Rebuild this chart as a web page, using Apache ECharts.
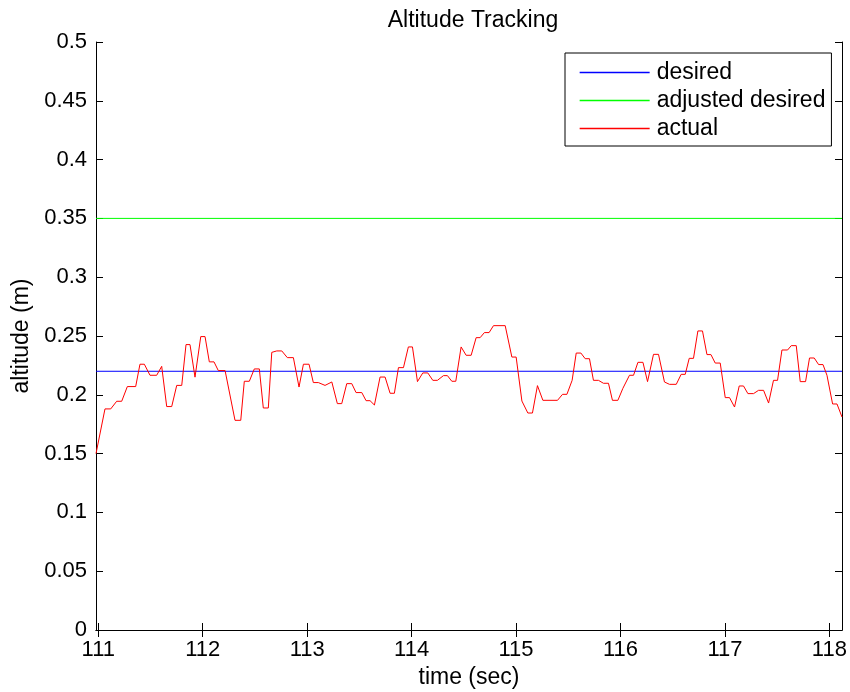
<!DOCTYPE html>
<html>
<head>
<meta charset="utf-8">
<script src="https://cdn.jsdelivr.net/npm/echarts@6/dist/echarts.min.js"></script>
<style>html,body{margin:0;padding:0;background:#fff}#chart{width:850px;height:692px}</style>
</head>
<body>
<div id="chart"></div>
<script>
const xTicks = [111, 112, 113, 114, 115, 116, 117, 118];
const xMin = 110.978, xMax = 118.121;
const desiredAlt = 0.22;
const adjustedAlt = 0.35;
const time = [110.978,111.064,111.119,111.176,111.224,111.278,111.358,111.399,111.441,111.495,111.559,111.607,111.655,111.703,111.751,111.799,111.840,111.878,111.926,111.981,112.022,112.063,112.108,112.149,112.214,112.309,112.364,112.398,112.446,112.494,112.542,112.580,112.628,112.661,112.709,112.757,112.810,112.868,112.922,112.964,113.018,113.059,113.107,113.171,113.236,113.289,113.331,113.379,113.427,113.468,113.523,113.564,113.602,113.644,113.698,113.746,113.794,113.835,113.874,113.922,113.969,114.008,114.056,114.107,114.155,114.203,114.247,114.305,114.343,114.385,114.423,114.474,114.522,114.570,114.618,114.656,114.697,114.742,114.784,114.896,114.960,115.001,115.056,115.113,115.157,115.205,115.257,115.397,115.445,115.487,115.537,115.576,115.621,115.662,115.703,115.741,115.789,115.837,115.885,115.923,115.975,116.023,116.086,116.125,116.167,116.215,116.259,116.316,116.364,116.421,116.469,116.534,116.581,116.620,116.658,116.699,116.741,116.785,116.828,116.866,116.907,116.955,117.003,117.044,117.092,117.137,117.178,117.220,117.274,117.322,117.370,117.418,117.465,117.504,117.546,117.600,117.635,117.683,117.721,117.772,117.810,117.855,117.897,117.939,117.977,118.031,118.073,118.121];
const actual = [0.150,0.188,0.188,0.1945,0.1945,0.207,0.207,0.226,0.226,0.2166,0.2166,0.2242,0.190,0.190,0.208,0.208,0.2427,0.2427,0.215,0.2495,0.2495,0.228,0.228,0.2206,0.2206,0.1783,0.1783,0.2115,0.2115,0.222,0.222,0.1888,0.1888,0.2361,0.2373,0.2373,0.2316,0.2316,0.2066,0.226,0.226,0.2104,0.2104,0.208,0.2109,0.1925,0.1925,0.2095,0.2095,0.2019,0.2019,0.195,0.195,0.1913,0.2151,0.2151,0.2013,0.2013,0.2231,0.2231,0.2407,0.2407,0.2112,0.2186,0.2186,0.2123,0.2123,0.2163,0.2163,0.2115,0.2115,0.2407,0.2336,0.2336,0.2486,0.2486,0.2529,0.2529,0.2588,0.2588,0.2321,0.2321,0.1947,0.1845,0.1845,0.2078,0.1953,0.1953,0.2004,0.2004,0.2123,0.2355,0.2355,0.2307,0.2307,0.2123,0.2123,0.2098,0.2098,0.1953,0.1953,0.2055,0.2166,0.2166,0.2276,0.2276,0.2112,0.2344,0.2344,0.2109,0.2089,0.2089,0.2174,0.2174,0.231,0.231,0.2543,0.2543,0.2342,0.2342,0.227,0.227,0.1976,0.1976,0.1896,0.2075,0.2075,0.201,0.201,0.2038,0.2038,0.193,0.2123,0.2123,0.2381,0.2381,0.2418,0.2418,0.2112,0.2112,0.2313,0.2313,0.2257,0.2257,0.2166,0.1922,0.1922,0.1811];

const FONT = 'Liberation Sans, Arial, sans-serif';
const chart = echarts.init(document.getElementById('chart'), null, {renderer: 'canvas'});
const legendItem = (name, color) => ({
  name: name,
  lineStyle: {color: color, width: 1.3, opacity: 1},
  itemStyle: {color: color, opacity: 0, borderWidth: 0}
});

const baseX = {
  type: 'value', min: xMin, max: xMax,
  axisLine: {show: true, lineStyle: {color: '#000', width: 1}},
  splitLine: {show: false}
};
const baseY = {
  type: 'value', min: 0, max: 0.5, interval: 0.05,
  axisLine: {show: true, lineStyle: {color: '#000', width: 1}},
  splitLine: {show: false}
};

chart.setOption({
  animation: false,
  backgroundColor: '#fff',
  title: {
    text: 'Altitude Tracking', left: 468, top: 4, textAlign: 'center',
    textStyle: {fontFamily: FONT, fontSize: 23, fontWeight: 'normal', color: '#000'}
  },
  grid: {left: 96, right: 8, top: 42, bottom: 62, containLabel: false, outerBoundsMode: 'none'},
  legend: {
    orient: 'vertical', left: 565, top: 53,
    padding: [8, 6, 6, 14],
    itemWidth: 70, itemHeight: 14, itemGap: 5,
    borderColor: '#000', borderWidth: 1, backgroundColor: '#fff',
    textStyle: {fontFamily: FONT, fontSize: 23, color: '#000', padding: [0, 0, 0, 2]},
    data: [
      legendItem('desired', '#0000ff'),
      legendItem('adjusted desired', '#00ff00'),
      legendItem('actual', '#ff0000')
    ]
  },
  xAxis: [
    Object.assign({}, baseX, {
      position: 'bottom',
      name: 'time (sec)', nameLocation: 'middle', nameGap: 30,
      nameTextStyle: {fontFamily: FONT, fontSize: 23, color: '#000'},
      axisTick: {show: true, inside: true, length: 7, customValues: xTicks, lineStyle: {color: '#000'}},
      axisLabel: {show: true, customValues: xTicks, margin: 9, fontFamily: FONT, fontSize: 22, color: '#000'}
    }),
    Object.assign({}, baseX, {
      position: 'top',
      axisTick: {show: true, inside: true, length: 7, customValues: xTicks, lineStyle: {color: '#000'}},
      axisLabel: {show: false}
    })
  ],
  yAxis: [
    Object.assign({}, baseY, {
      position: 'left',
      name: 'altitude (m)', nameLocation: 'middle', nameGap: 63,
      nameTextStyle: {fontFamily: FONT, fontSize: 23, color: '#000'},
      axisTick: {show: true, inside: true, length: 7, lineStyle: {color: '#000'}},
      axisLabel: {show: true, margin: 9, fontFamily: FONT, fontSize: 22, color: '#000',
        formatter: v => String(+v.toFixed(2))}
    }),
    Object.assign({}, baseY, {
      position: 'right',
      axisTick: {show: true, inside: true, length: 7, lineStyle: {color: '#000'}},
      axisLabel: {show: false}
    })
  ],
  series: [
    {
      name: 'desired', type: 'line', symbol: 'none',
      lineStyle: {color: '#0000ff', width: 1}, itemStyle: {color: '#0000ff'},
      data: [[xMin, desiredAlt], [xMax, desiredAlt]]
    },
    {
      name: 'adjusted desired', type: 'line', symbol: 'none',
      lineStyle: {color: '#00ff00', width: 1}, itemStyle: {color: '#00ff00'},
      data: [[xMin, adjustedAlt], [xMax, adjustedAlt]]
    },
    {
      name: 'actual', type: 'line', symbol: 'none',
      lineStyle: {color: '#ff0000', width: 1}, itemStyle: {color: '#ff0000'},
      data: time.map((t, i) => [t, actual[i]])
    }
  ]
});
</script>
</body>
</html>
